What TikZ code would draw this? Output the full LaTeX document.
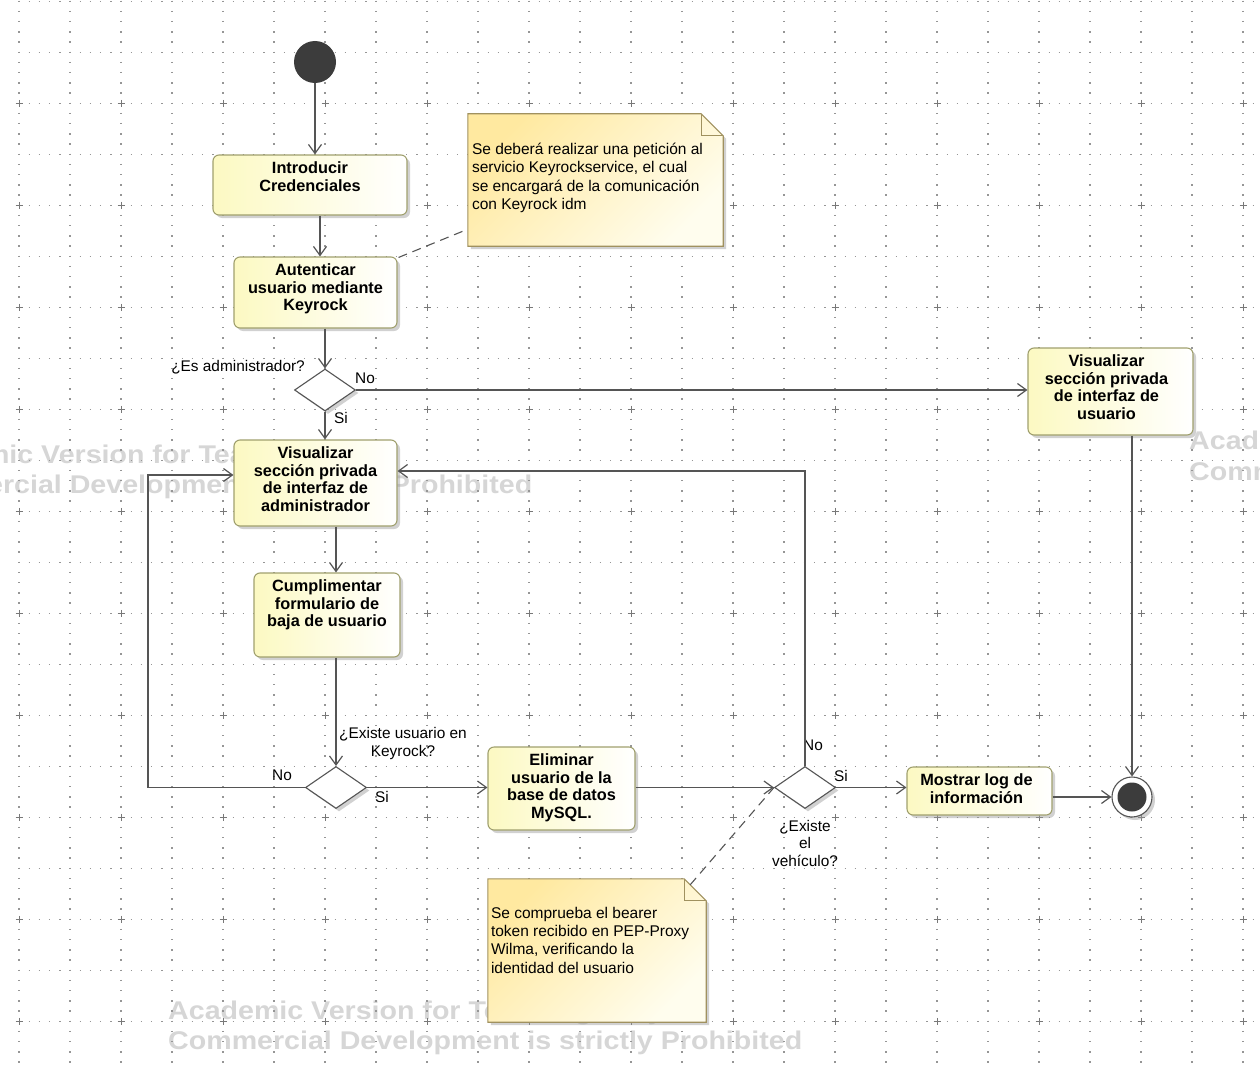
\documentclass[tikz,border=0pt]{standalone}
\usepackage{fontspec}
\setmainfont{Liberation Sans}
\usetikzlibrary{arrows.meta,shapes.geometric,shadows,calc}

\definecolor{linecol}{RGB}{85,85,85}
\definecolor{actborder}{RGB}{160,160,110}
\definecolor{actfill}{RGB}{252,249,194}
\definecolor{noteA}{RGB}{255,233,160}
\definecolor{noteB}{RGB}{255,253,238}
\definecolor{noteborder}{RGB}{160,145,95}
\definecolor{startcol}{RGB}{60,60,60}
\definecolor{gridcol}{RGB}{150,150,150}
\definecolor{wmcol}{RGB}{214,214,214}

\begin{document}
\begin{tikzpicture}[x=1pt,y=-1pt,
  shadowed/.style={drop shadow={shadow xshift=3pt,shadow yshift=-3pt,fill=black!40,opacity=0.45}},
  act/.style={rectangle,rounded corners=6pt,draw=actborder,line width=1.1pt,
    left color=actfill,right color=white,inner sep=0pt,shadowed},
  acttext/.style={font=\fontsize{16.3}{17.6}\selectfont\bfseries,align=center,anchor=north,inner sep=0pt},
  decision/.style={shape=diamond,draw=linecol,fill=white,line width=1.1pt,inner sep=0pt,
    minimum width=61pt,minimum height=42pt,shadowed},
  notebg/.style={rectangle,inner sep=0pt},
  noteline/.style={draw=noteborder,line width=1.1pt},
  notetext/.style={font=\fontsize{15.5}{18.3}\selectfont,align=left,anchor=north west,inner sep=0pt},
  lbl/.style={font=\fontsize{15.4}{17.5}\selectfont,inner sep=0pt},
  flow/.style={draw=linecol,line width=1.2pt,-{Straight Barb[length=9pt,width=13pt]}},
  anchorline/.style={draw=linecol,line width=1.1pt,dash pattern=on 9pt off 6pt},
  wmark/.style={font=\fontsize{25.6}{30}\selectfont\bfseries,text=wmcol,inner sep=0pt,
    anchor=base west,xscale=1.117,transform shape},
  griddot/.style={draw=gridcol,line width=1.4pt,dash pattern=on 1.4pt off 8.8pt}
]
\useasboundingbox (0,0) rectangle (1260,1070);
\fill[white] (0,0) rectangle (1260,1070);

% tool watermark
\node[wmark] (wmA1) at (-102,463) {Academic Version for Teaching Only};
\node[wmark] (wmA2) at (-102,493) {Commercial Development is strictly Prohibited};
\node[wmark] (wmB1) at (1189,449) {Academic Version for Teaching Only};
\node[wmark] (wmB2) at (1189,480) {Commercial Development is strictly Prohibited};
\node[wmark] (wmC1) at (168,1019) {Academic Version for Teaching Only};
\node[wmark] (wmC2) at (168,1049) {Commercial Development is strictly Prohibited};

% dotted background grid
\foreach \i in {0,...,24}
  \draw[griddot] (19+51*\i,0.6) -- (19+51*\i,1070);
\foreach \j in {0,...,20}
  \draw[griddot] (18.3,1.3+51*\j) -- (1260,1.3+51*\j);
\foreach \i in {0,...,12}
  \foreach \j in {0,...,9}
    \draw[gridcol!80!black,line width=0.9pt]
      (19+102*\i-3.5,103.3+102*\j) -- (19+102*\i+3.5,103.3+102*\j)
      (19+102*\i,103.3+102*\j-3.5) -- (19+102*\i,103.3+102*\j+3.5);

% initial and final nodes
\node[circle,fill=startcol,minimum size=42pt,inner sep=0pt] (st) at (315,62) {};
\node[circle,draw=linecol,fill=white,line width=1.1pt,minimum size=40pt,inner sep=0pt,shadowed] (fin) at (1132,797) {};
\node[circle,fill=startcol,minimum size=29pt,inner sep=0pt] (finc) at (fin) {};

% actions
\node[act,minimum width=194pt,minimum height=60pt] (b1) at (310,185) {};
\node[acttext] (t1) at ($(b1.north)+(0,7)$) {Introducir\\Credenciales};
\node[act,minimum width=163pt,minimum height=71pt] (b2) at (315.5,292.5) {};
\node[acttext] (t2) at ($(b2.north)+(0,7)$) {Autenticar\\usuario mediante\\Keyrock};
\node[act,minimum width=163pt,minimum height=86pt] (b3) at (315.5,483) {};
\node[acttext] (t3) at ($(b3.north)+(0,7)$) {Visualizar\\sección privada\\de interfaz de\\administrador};
\node[act,minimum width=165pt,minimum height=87pt] (b4) at (1110.5,391.5) {};
\node[acttext] (t4) at ($(b4.north)+(-4,7)$) {Visualizar\\sección privada\\de interfaz de\\usuario};
\node[act,minimum width=146pt,minimum height=84pt] (b5) at (327,615) {};
\node[acttext] (t5) at ($(b5.north)+(0,7)$) {Cumplimentar\\formulario de\\baja de usuario};
\node[act,minimum width=147pt,minimum height=83pt] (b6) at (561.5,788.5) {};
\node[acttext] (t6) at ($(b6.north)+(0,7)$) {Eliminar\\usuario de la\\base de datos\\MySQL.};
\node[act,minimum width=145pt,minimum height=48pt] (b7) at (979.5,791) {};
\node[acttext] (t7) at ($(b7.north)+(-3,7)$) {Mostrar log de\\información};

% decisions
\node[decision] (d1) at (325,390) {};
\node[decision] (d2) at (336,787.5) {};
\node[decision] (d3) at (805,787.5) {};

% notes
\node[notebg,minimum width=255pt,minimum height=132pt] (n1) at (595.5,180) {};
\node[notebg,minimum width=218pt,minimum height=143pt] (n2) at (597,950.5) {};
\foreach \n in {n1,n2}{
  \fill[black!40,opacity=0.45] ($(\n.north west)+(3,3)$) -- ($(\n.north east)+(-19,3)$)
    -- ($(\n.north east)+(3,25)$) -- ($(\n.south east)+(3,3)$) -- ($(\n.south west)+(3,3)$) -- cycle;
  \path[noteline,left color=noteA,right color=noteB,shading angle=45]
    (\n.north west) -- ($(\n.north east)+(-22,0)$) -- ($(\n.north east)+(0,22)$)
    -- (\n.south east) -- (\n.south west) -- cycle;
  \draw[noteborder,line width=1.1pt] ($(\n.north east)+(-22,0)$) -- ($(\n.north east)+(-22,22)$)
    -- ($(\n.north east)+(0,22)$);
}
\node[notetext] (n1t) at ($(n1.north west)+(4,29)$) {Se deberá realizar una petición al\\servicio Keyrockservice, el cual\\se encargará de la comunicación\\con Keyrock idm};
\node[notetext] (n2t) at ($(n2.north west)+(3,28)$) {Se comprueba el bearer\\token recibido en PEP-Proxy\\Wilma, verificando la\\identidad del usuario};

% note anchors
\draw[anchorline] ($(b2.north east)+(1,1)$) -- ($(n1.south west)+(0,-17)$);
\draw[anchorline] ($(n2.north east)+(-16,6)$) -- (d3.west);

% guard labels
\node[lbl,anchor=east] (l1) at (305,367) {¿Es administrador?};
\node[lbl,anchor=west] (l2) at (355,378) {No};
\node[lbl,anchor=west] (l3) at (334,418) {Si};
\node[lbl,align=center] (l4) at (403,743.5) {¿Existe usuario en\\Keyrock?};
\node[lbl] (l5) at (282,775) {No};
\node[lbl] (l6) at (382,797) {Si};
\node[lbl] (l7) at (813,745) {No};
\node[lbl] (l8) at (841,776) {Si};
\node[lbl,align=center] (l9) at (805,843) {¿Existe\\el\\vehículo?};

% control flow
\coordinate (loopL) at (148,475);
\coordinate (loopR) at (805,471);
\draw[flow] (st.south) -- (st |- b1.north);
\draw[flow] ([xshift=10pt]b1.south) -- ([xshift=10pt]b1.south |- b2.north);
\draw[flow] (d1 |- b2.south) -- (d1.north);
\draw[flow] (d1.south) -- (d1 |- b3.north);
\draw[flow] (d1.east) -- (d1.east -| b4.west);
\draw[flow] (fin |- b4.south) -- (fin.north);
\draw[flow] (d2 |- b3.south) -- (d2 |- b5.north);
\draw[flow] (d2 |- b5.south) -- (d2.north);
\draw[flow] (d2.west) -| (loopL) -- (loopL -| b3.west);
\draw[flow] (d2.east) -- (d2.east -| b6.west);
\draw[flow] (b6.east |- d3) -- (d3.west);
\draw[flow] (d3.north) -- (loopR) -- (loopR -| b3.east);
\draw[flow] (d3.east) -- (d3.east -| b7.west);
\draw[flow] (b7.east |- fin) -- (fin.west);
\end{tikzpicture}
\end{document}
